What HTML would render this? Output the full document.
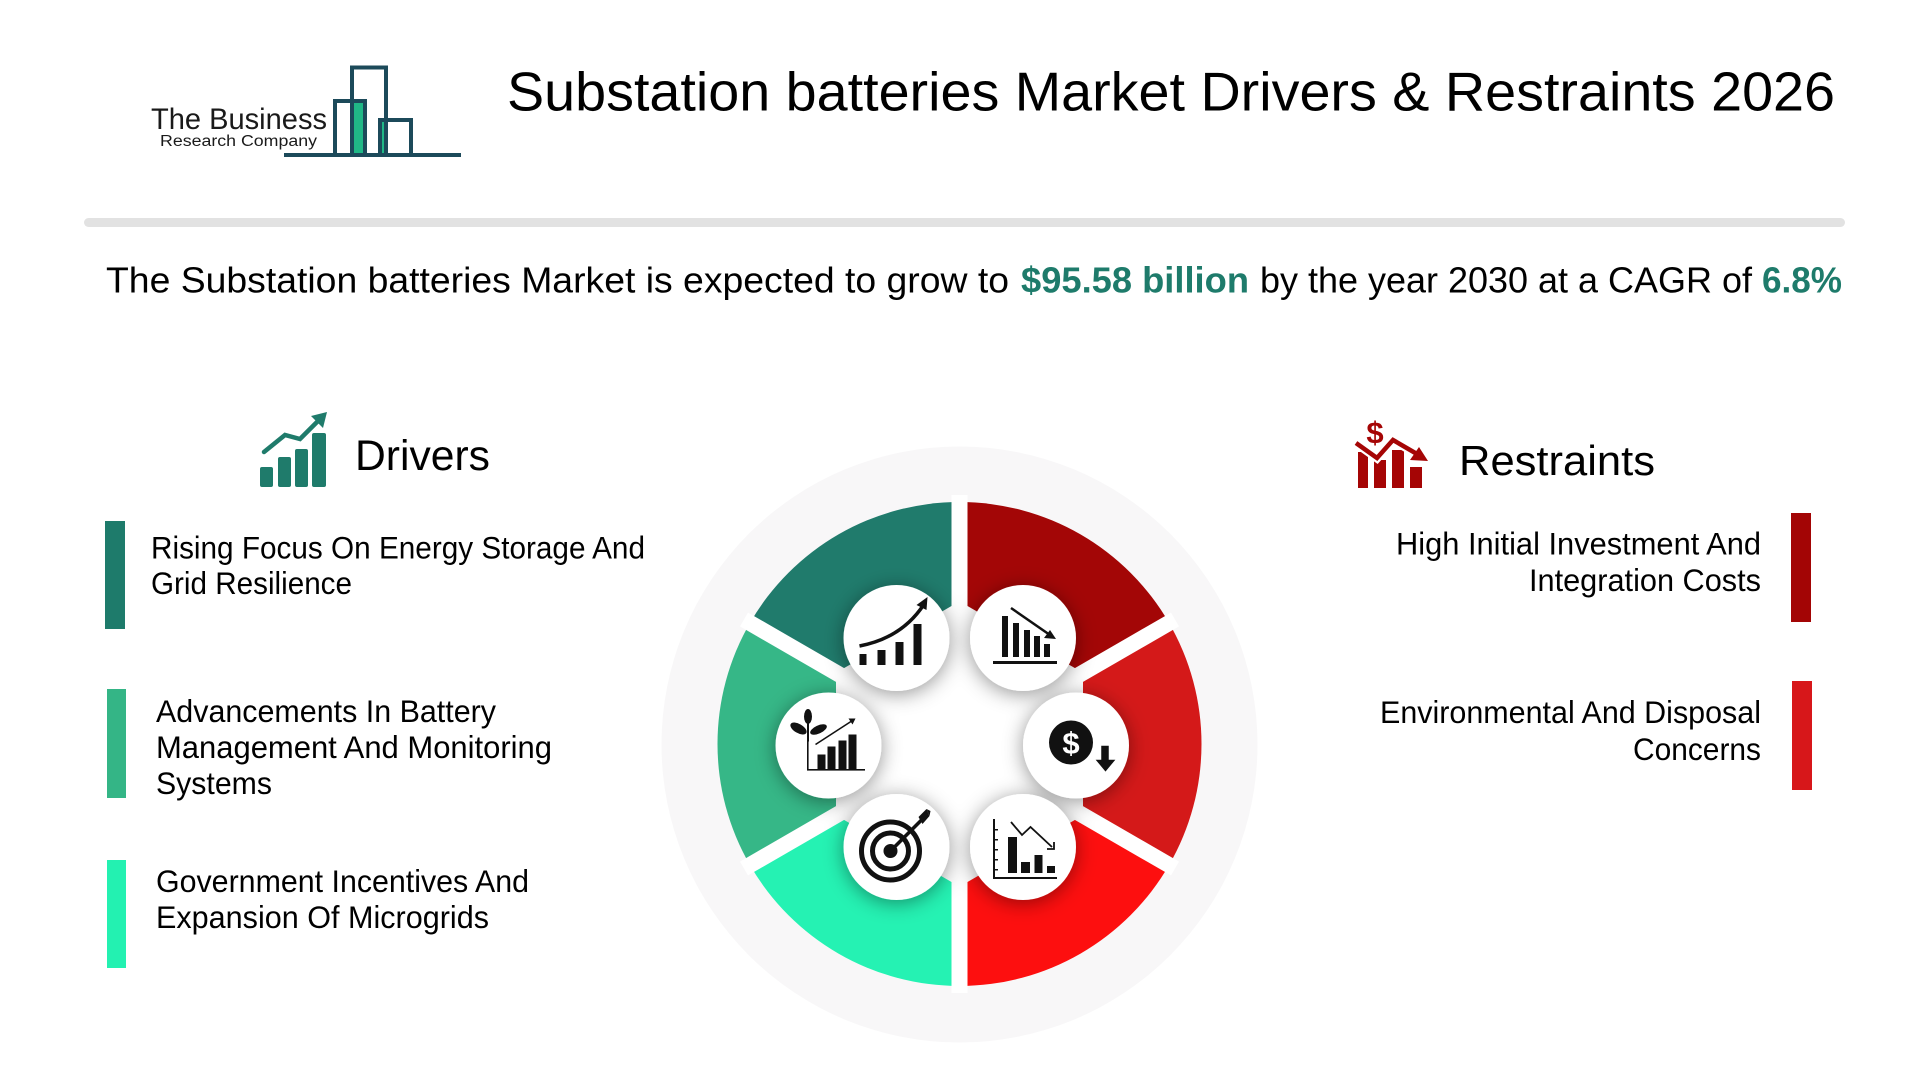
<!DOCTYPE html>
<html>
<head>
<meta charset="utf-8">
<style>
html,body{margin:0;padding:0;background:#ffffff;}
svg{display:block;}
text{font-family:"Liberation Sans",Arial,sans-serif;}
</style>
</head>
<body>
<svg width="1920" height="1080" viewBox="0 0 1920 1080" xmlns="http://www.w3.org/2000/svg">
<defs>
  <filter id="sh" x="-50%" y="-50%" width="200%" height="200%">
    <feDropShadow dx="0" dy="3" stdDeviation="10" flood-color="#000" flood-opacity="0.42"/>
  </filter>
</defs>
<rect width="1920" height="1080" fill="#ffffff"/>

<!-- Logo -->
<rect x="352" y="101" width="13" height="54" fill="#20b886"/>
<rect x="380" y="120" width="6" height="35" fill="#20b886"/>
<g fill="none" stroke="#1c4a5a" stroke-width="4" stroke-linejoin="miter">
  <polyline points="284,155 335,155 335,101 365,101 365,155"/>
  <polyline points="352,155 352,67.5 386,67.5 386,155"/>
  <polyline points="380,155 380,120 411,120 411,155 461,155"/>
  <line x1="335" y1="155" x2="411" y2="155"/>
</g>
<text x="151" y="129" font-size="30" fill="#1a1a1a" textLength="176" lengthAdjust="spacingAndGlyphs">The Business</text>
<text x="160" y="146" font-size="15.5" fill="#1a1a1a" textLength="157" lengthAdjust="spacingAndGlyphs">Research Company</text>

<!-- Title -->
<text x="507" y="110.5" font-size="55" fill="#000" textLength="1328" lengthAdjust="spacingAndGlyphs">Substation batteries Market Drivers &amp; Restraints 2026</text>

<!-- Divider -->
<rect x="84" y="218" width="1761" height="9" rx="4.5" fill="#e2e2e2"/>

<!-- Subtitle -->
<text x="106" y="292.5" font-size="36" fill="#000" textLength="903" lengthAdjust="spacingAndGlyphs">The Substation batteries Market is expected to grow to</text>
<text x="1021" y="292.5" font-size="36" font-weight="bold" fill="#1e7b6b" textLength="228" lengthAdjust="spacingAndGlyphs">$95.58 billion</text>
<text x="1260" y="292.5" font-size="36" fill="#000" textLength="492" lengthAdjust="spacingAndGlyphs">by the year 2030 at a CAGR of</text>
<text x="1762" y="292.5" font-size="36" font-weight="bold" fill="#1e7b6b" textLength="80" lengthAdjust="spacingAndGlyphs">6.8%</text>

<!-- Drivers header -->
<g fill="#1f7b6b">
  <rect x="260" y="467" width="13" height="20" rx="2"/>
  <rect x="278" y="457" width="13" height="30" rx="2"/>
  <rect x="295" y="449" width="13" height="38" rx="2"/>
  <rect x="312" y="433" width="14" height="54" rx="2"/>
  <polygon points="327,412 311,416 323,428"/>
</g>
<polyline points="264,452 285,435 300,439 318,421" fill="none" stroke="#1f7b6b" stroke-width="4.5" stroke-linejoin="miter" stroke-linecap="round"/>
<text x="355" y="470" font-size="43" fill="#000" textLength="135" lengthAdjust="spacingAndGlyphs">Drivers</text>

<!-- Restraints header -->
<g fill="#a50505">
  <rect x="1358" y="452" width="10" height="36"/>
  <rect x="1374" y="460" width="12" height="28"/>
  <rect x="1392" y="450" width="12" height="38"/>
  <rect x="1410" y="467" width="12" height="21"/>
</g>
<polyline points="1356,443 1377,458 1393,440 1417,454" fill="none" stroke="#ffffff" stroke-width="9"/>
<polyline points="1356,443 1377,458 1393,440 1417,454" fill="none" stroke="#a50505" stroke-width="4.5"/>
<polygon points="1428,461 1410,460 1419,447" fill="#a50505"/>
<text x="1375" y="443" font-size="31" font-weight="bold" fill="#a50505" text-anchor="middle">$</text>
<text x="1459" y="475" font-size="42" fill="#000" textLength="196" lengthAdjust="spacingAndGlyphs">Restraints</text>

<!-- Driver items -->
<rect x="105" y="521" width="20" height="108" fill="#1e7b6b"/>
<text x="151" y="558.5" font-size="31.5" fill="#000" textLength="494" lengthAdjust="spacingAndGlyphs">Rising Focus On Energy Storage And</text>
<text x="151" y="594" font-size="31.5" fill="#000" textLength="201" lengthAdjust="spacingAndGlyphs">Grid Resilience</text>

<rect x="107" y="689" width="19" height="109" fill="#34b586"/>
<text x="156" y="722" font-size="31.5" fill="#000" textLength="340" lengthAdjust="spacingAndGlyphs">Advancements In Battery</text>
<text x="156" y="758" font-size="31.5" fill="#000" textLength="396" lengthAdjust="spacingAndGlyphs">Management And Monitoring</text>
<text x="156" y="794" font-size="31.5" fill="#000" textLength="116" lengthAdjust="spacingAndGlyphs">Systems</text>

<rect x="107" y="860" width="19" height="108" fill="#23f1b1"/>
<text x="156" y="892" font-size="31.5" fill="#000" textLength="373" lengthAdjust="spacingAndGlyphs">Government Incentives And</text>
<text x="156" y="928" font-size="31.5" fill="#000" textLength="333" lengthAdjust="spacingAndGlyphs">Expansion Of Microgrids</text>

<!-- Restraint items -->
<rect x="1791" y="513" width="20" height="109" fill="#a30505"/>
<text x="1761" y="554.5" font-size="31.5" fill="#000" text-anchor="end" textLength="365" lengthAdjust="spacingAndGlyphs">High Initial Investment And</text>
<text x="1761" y="591" font-size="31.5" fill="#000" text-anchor="end" textLength="232" lengthAdjust="spacingAndGlyphs">Integration Costs</text>

<rect x="1792" y="681" width="20" height="109" fill="#d7171a"/>
<text x="1761" y="723" font-size="31.5" fill="#000" text-anchor="end" textLength="381" lengthAdjust="spacingAndGlyphs">Environmental And Disposal</text>
<text x="1761" y="760" font-size="31.5" fill="#000" text-anchor="end" textLength="128" lengthAdjust="spacingAndGlyphs">Concerns</text>

<!-- Center donut -->
<circle cx="959.5" cy="744.5" r="298" fill="#f8f7f8"/>
<circle cx="959.5" cy="744" r="146" fill="#ffffff"/>
<path d="M959.5,502 A242,242 0 0 1 1169.08,623 L1083,672.7 L959.5,601.4 Z" fill="#a30606"/>
<path d="M1169.08,623 A242,242 0 0 1 1169.08,865 L1083,815.3 L1083,672.7 Z" fill="#d41919"/>
<path d="M1169.08,865 A242,242 0 0 1 959.5,986 L959.5,886.6 L1083,815.3 Z" fill="#fd0f0f"/>
<path d="M959.5,986 A242,242 0 0 1 749.92,865 L836,815.3 L959.5,886.6 Z" fill="#25f2b3"/>
<path d="M749.92,865 A242,242 0 0 1 749.92,623 L836,672.7 L836,815.3 Z" fill="#36b787"/>
<path d="M749.92,623 A242,242 0 0 1 959.5,502 L959.5,601.4 L836,672.7 Z" fill="#207b6c"/>
<g stroke="#ffffff" stroke-width="16">
  <line x1="959.5" y1="744" x2="959.5" y2="495"/>
  <line x1="959.5" y1="744" x2="959.5" y2="993"/>
  <line x1="959.5" y1="744" x2="1175" y2="619.5"/>
  <line x1="959.5" y1="744" x2="1175" y2="868.5"/>
  <line x1="959.5" y1="744" x2="744" y2="619.5"/>
  <line x1="959.5" y1="744" x2="744" y2="868.5"/>
</g>

<g filter="url(#sh)" fill="#ffffff">
  <circle cx="896.5" cy="638" r="53"/>
  <circle cx="1023" cy="638" r="53"/>
  <circle cx="828.5" cy="745.5" r="53"/>
  <circle cx="1076" cy="745.5" r="53"/>
  <circle cx="896.5" cy="847" r="53"/>
  <circle cx="1023" cy="847" r="53"/>
</g>

<!-- Icon 1: growth bars -->
<g transform="translate(896.5,638)" fill="#111">
  <rect x="-37" y="16" width="7" height="11"/>
  <rect x="-19" y="12" width="8" height="15"/>
  <rect x="-1" y="4" width="8" height="23"/>
  <rect x="17" y="-14" width="8" height="41"/>
  <path d="M-37,8 Q5,0 27,-33" fill="none" stroke="#111" stroke-width="3.5"/>
  <polygon points="31,-41 20,-33 30,-28"/>
</g>

<!-- Icon 2: declining bars -->
<g transform="translate(1023,638)" fill="#111">
  <rect x="-21" y="-22" width="6" height="41"/>
  <rect x="-10" y="-15" width="6" height="34"/>
  <rect x="1" y="-8" width="6" height="27"/>
  <rect x="11" y="-2" width="6" height="21"/>
  <rect x="21" y="6" width="6" height="13"/>
  <rect x="-30" y="23" width="64" height="3"/>
  <line x1="-12" y1="-30" x2="27" y2="-3" stroke="#111" stroke-width="2.5"/>
  <polygon points="33,1 21,0 27,-8"/>
</g>

<!-- Icon 3: plant + bars -->
<g transform="translate(828.5,745.5)" fill="#111">
  <rect x="-21.5" y="-5" width="1.6" height="30"/>
  <rect x="-21.5" y="23.5" width="58" height="1.6"/>
  <rect x="-11" y="9" width="8" height="15"/>
  <rect x="-1" y="1" width="8" height="23"/>
  <rect x="10" y="-5" width="8" height="29"/>
  <rect x="20" y="-11" width="8" height="35"/>
  <line x1="-13" y1="-1" x2="24" y2="-25" stroke="#111" stroke-width="1.6"/>
  <polygon points="27,-27 20,-27 24,-21"/>
  <rect x="-21.5" y="-24" width="2" height="20"/>
  <ellipse cx="-20.5" cy="-29" rx="4" ry="7.5"/>
  <ellipse cx="-30" cy="-17" rx="9" ry="4.5" transform="rotate(30 -30 -17)"/>
  <ellipse cx="-10" cy="-16" rx="9" ry="4" transform="rotate(-25 -10 -16)"/>
</g>

<!-- Icon 4: dollar coin with down arrow -->
<g transform="translate(1076,745.5)">
  <circle cx="-5" cy="-3" r="22" fill="#111"/>
  <text x="-5" y="8" font-size="31" font-weight="bold" fill="#fff" text-anchor="middle">$</text>
  <path d="M24,-1 L34,-1 L34,13 L42,13 L29.5,28 L17,13 L24,13 Z" fill="#111" stroke="#fff" stroke-width="2.5"/>
</g>

<!-- Icon 5: target -->
<g transform="translate(896.5,847)">
  <circle cx="-6" cy="4" r="29" fill="none" stroke="#111" stroke-width="5"/>
  <circle cx="-6" cy="4" r="18" fill="none" stroke="#111" stroke-width="5"/>
  <circle cx="-6" cy="4" r="7" fill="#111"/>
  <line x1="-6" y1="4" x2="26" y2="-28" stroke="#111" stroke-width="3.5"/>
  <polygon points="22,-30 30,-38 33,-31 26,-23" fill="#111"/>
  <polygon points="30,-38 34,-36 33,-31" fill="#111"/>
</g>

<!-- Icon 6: chart with declining zigzag -->
<g transform="translate(1023,847)" fill="#111">
  <rect x="-30" y="-28" width="2" height="60"/>
  <rect x="-30" y="30" width="64" height="2"/>
  <rect x="-30" y="-18" width="5" height="1.5"/>
  <rect x="-30" y="-8" width="5" height="1.5"/>
  <rect x="-30" y="2" width="5" height="1.5"/>
  <rect x="-30" y="12" width="5" height="1.5"/>
  <rect x="-30" y="22" width="5" height="1.5"/>
  <rect x="-15" y="-10" width="9" height="36"/>
  <rect x="-2" y="15" width="9" height="11"/>
  <rect x="11.5" y="8" width="8" height="18"/>
  <rect x="24" y="19" width="8" height="7"/>
  <polyline points="-12,-25 -1,-12 7.5,-20 29,0" fill="none" stroke="#111" stroke-width="1.8"/>
  <polyline points="24,2 31,2 31,-5" fill="none" stroke="#111" stroke-width="1.8"/>
</g>
</svg>
</body>
</html>
